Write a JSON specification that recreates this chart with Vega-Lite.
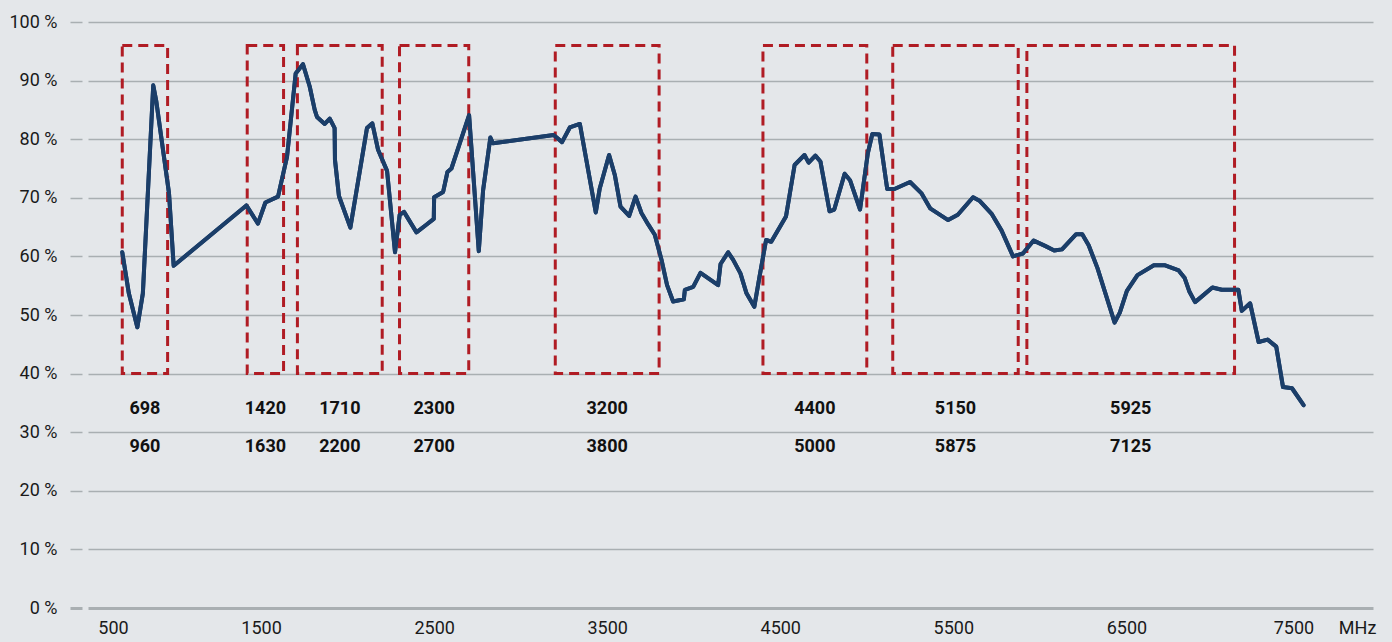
{
  "$schema": "https://vega.github.io/schema/vega-lite/v6.json",
  "width": 1285,
  "height": 586,
  "autosize": {"type": "none"},
  "padding": {"left": 88, "top": 22, "right": 19, "bottom": 34},
  "background": "#e4e7ea",
  "config": {"view": {"stroke": null}, "font": "Roboto"},
  "datasets": {
    "curve": [
      {"freq": 698, "eff": 60.7}, {"freq": 736, "eff": 53.7}, {"freq": 785, "eff": 47.9}, {"freq": 817, "eff": 53.7},
      {"freq": 877, "eff": 89.2}, {"freq": 895, "eff": 86.4}, {"freq": 968, "eff": 70.8}, {"freq": 995, "eff": 58.4},
      {"freq": 1415, "eff": 68.7}, {"freq": 1482, "eff": 65.6}, {"freq": 1525, "eff": 69.2}, {"freq": 1598, "eff": 70.2},
      {"freq": 1650, "eff": 77.0}, {"freq": 1700, "eff": 91.2}, {"freq": 1742, "eff": 92.8}, {"freq": 1781, "eff": 89.0},
      {"freq": 1810, "eff": 85.0}, {"freq": 1823, "eff": 83.8}, {"freq": 1868, "eff": 82.6}, {"freq": 1897, "eff": 83.5},
      {"freq": 1925, "eff": 81.9}, {"freq": 1927, "eff": 76.5}, {"freq": 1950, "eff": 70.3}, {"freq": 2016, "eff": 64.9},
      {"freq": 2112, "eff": 81.9}, {"freq": 2143, "eff": 82.7}, {"freq": 2176, "eff": 78.2}, {"freq": 2228, "eff": 74.6},
      {"freq": 2274, "eff": 60.7}, {"freq": 2301, "eff": 67.1}, {"freq": 2326, "eff": 67.6}, {"freq": 2398, "eff": 64.1},
      {"freq": 2455, "eff": 65.4}, {"freq": 2498, "eff": 66.4}, {"freq": 2500, "eff": 70.1}, {"freq": 2552, "eff": 71.0},
      {"freq": 2577, "eff": 74.4}, {"freq": 2600, "eff": 75.0}, {"freq": 2702, "eff": 84.1}, {"freq": 2758, "eff": 60.9},
      {"freq": 2783, "eff": 71.3}, {"freq": 2825, "eff": 80.3}, {"freq": 2840, "eff": 79.3}, {"freq": 3191, "eff": 80.7},
      {"freq": 3239, "eff": 79.5}, {"freq": 3284, "eff": 82.0}, {"freq": 3342, "eff": 82.6}, {"freq": 3434, "eff": 67.5},
      {"freq": 3457, "eff": 71.6}, {"freq": 3511, "eff": 77.3}, {"freq": 3544, "eff": 73.9}, {"freq": 3577, "eff": 68.5},
      {"freq": 3627, "eff": 66.9}, {"freq": 3664, "eff": 70.2}, {"freq": 3698, "eff": 67.4}, {"freq": 3736, "eff": 65.5},
      {"freq": 3775, "eff": 63.7}, {"freq": 3814, "eff": 59.4}, {"freq": 3846, "eff": 55.1}, {"freq": 3881, "eff": 52.3},
      {"freq": 3943, "eff": 52.7}, {"freq": 3949, "eff": 54.3}, {"freq": 3997, "eff": 54.8}, {"freq": 4039, "eff": 57.2},
      {"freq": 4141, "eff": 55.1}, {"freq": 4155, "eff": 58.7}, {"freq": 4199, "eff": 60.7}, {"freq": 4228, "eff": 59.4},
      {"freq": 4270, "eff": 57.1}, {"freq": 4305, "eff": 53.7}, {"freq": 4350, "eff": 51.4}, {"freq": 4380, "eff": 56.5},
      {"freq": 4418, "eff": 62.8}, {"freq": 4448, "eff": 62.5}, {"freq": 4533, "eff": 66.8}, {"freq": 4583, "eff": 75.6},
      {"freq": 4640, "eff": 77.3}, {"freq": 4664, "eff": 76.0}, {"freq": 4703, "eff": 77.2}, {"freq": 4732, "eff": 76.2},
      {"freq": 4785, "eff": 67.7}, {"freq": 4812, "eff": 68.0}, {"freq": 4872, "eff": 74.1}, {"freq": 4903, "eff": 73.0},
      {"freq": 4961, "eff": 68.0}, {"freq": 5006, "eff": 77.6}, {"freq": 5032, "eff": 80.9}, {"freq": 5073, "eff": 80.8},
      {"freq": 5118, "eff": 71.5}, {"freq": 5160, "eff": 71.5}, {"freq": 5250, "eff": 72.7}, {"freq": 5315, "eff": 70.8},
      {"freq": 5366, "eff": 68.2}, {"freq": 5470, "eff": 66.2}, {"freq": 5526, "eff": 67.1}, {"freq": 5614, "eff": 70.1},
      {"freq": 5651, "eff": 69.5}, {"freq": 5723, "eff": 67.2}, {"freq": 5779, "eff": 64.4}, {"freq": 5845, "eff": 60.0},
      {"freq": 5902, "eff": 60.5}, {"freq": 5964, "eff": 62.7}, {"freq": 6030, "eff": 61.8}, {"freq": 6083, "eff": 61.0},
      {"freq": 6128, "eff": 61.2}, {"freq": 6210, "eff": 63.8}, {"freq": 6245, "eff": 63.8}, {"freq": 6282, "eff": 61.9},
      {"freq": 6333, "eff": 58.0}, {"freq": 6432, "eff": 48.7}, {"freq": 6462, "eff": 50.4}, {"freq": 6503, "eff": 54.1},
      {"freq": 6564, "eff": 56.8}, {"freq": 6659, "eff": 58.5}, {"freq": 6720, "eff": 58.5}, {"freq": 6802, "eff": 57.6},
      {"freq": 6837, "eff": 56.3}, {"freq": 6864, "eff": 54.0}, {"freq": 6897, "eff": 52.2}, {"freq": 6997, "eff": 54.7},
      {"freq": 7051, "eff": 54.3}, {"freq": 7147, "eff": 54.3}, {"freq": 7167, "eff": 50.7}, {"freq": 7215, "eff": 52.0},
      {"freq": 7264, "eff": 45.4}, {"freq": 7316, "eff": 45.8}, {"freq": 7366, "eff": 44.6}, {"freq": 7405, "eff": 37.7},
      {"freq": 7457, "eff": 37.5}, {"freq": 7524, "eff": 34.6}
    ],
    "bands": [
      {"start": 698, "end": 960}, {"start": 1420, "end": 1630}, {"start": 1710, "end": 2200},
      {"start": 2300, "end": 2700}, {"start": 3200, "end": 3800}, {"start": 4400, "end": 5000},
      {"start": 5150, "end": 5875}, {"start": 5925, "end": 7125}
    ]
  },
  "layer": [
    {
      "data": {"name": "curve"},
      "mark": {"type": "line", "color": "#1b3e69", "strokeWidth": 4, "strokeJoin": "round", "strokeCap": "round"},
      "encoding": {
        "x": {
          "field": "freq", "type": "quantitative",
          "scale": {"domain": [500, 7925], "nice": false, "zero": false},
          "axis": {
            "values": [500, 1500, 2500, 3500, 4500, 5500, 6500, 7500, 7833],
            "format": "d",
            "labelExpr": "datum.value > 7600 ? 'MHz' : datum.label",
            "title": null, "grid": false, "domain": false, "ticks": false,
            "labelPadding": 11, "labelFontSize": 18, "labelFont": "Roboto",
            "labelColor": "#1a1a1a", "labelFlush": false, "labelOverlap": false,
            "labelOffset": {"condition": [{"test": "datum.value == 500", "value": 25}, {"test": "datum.value == 7500", "value": -6}], "value": 0}
          }
        },
        "y": {
          "field": "eff", "type": "quantitative",
          "scale": {"domain": [0, 100], "nice": false},
          "axis": {
            "values": [0, 10, 20, 30, 40, 50, 60, 70, 80, 90, 100],
            "labelExpr": "datum.value + ' %'",
            "title": null, "domain": false, "grid": true,
            "gridColor": "#a9afb2",
            "gridWidth": {"condition": {"test": "datum.value == 0", "value": 3}, "value": 1.5},
            "tickColor": "#a9afb2", "tickSize": 12,
            "tickWidth": {"condition": {"test": "datum.value == 0", "value": 3}, "value": 1.5},
            "offset": 6, "labelPadding": 13, "labelFontSize": 18,
            "labelFont": "Roboto", "labelColor": "#1a1a1a"
          }
        }
      }
    },
    {
      "data": {"name": "bands"},
      "mark": {"type": "rect", "fill": "transparent", "stroke": "#b01c24", "strokeWidth": 3, "strokeDash": [10, 6]},
      "encoding": {
        "x": {"field": "start", "type": "quantitative"},
        "x2": {"field": "end"},
        "y": {"datum": 40, "type": "quantitative"},
        "y2": {"datum": 96}
      }
    },
    {
      "data": {"name": "curve"},
      "mark": {"type": "line", "color": "#1b3e69", "strokeWidth": 4, "strokeJoin": "round", "strokeCap": "round"},
      "encoding": {
        "x": {"field": "freq", "type": "quantitative"},
        "y": {"field": "eff", "type": "quantitative"}
      }
    },
    {
      "data": {"name": "bands"},
      "transform": [{"calculate": "(datum.start + datum.end) / 2", "as": "mid"}],
      "mark": {"type": "text", "fontWeight": "bold", "fontSize": 18, "font": "Roboto", "color": "#111111", "baseline": "middle", "align": "center"},
      "encoding": {
        "x": {"field": "mid", "type": "quantitative"},
        "y": {"datum": 34, "type": "quantitative"},
        "text": {"field": "start", "type": "nominal"}
      }
    },
    {
      "data": {"name": "bands"},
      "transform": [{"calculate": "(datum.start + datum.end) / 2", "as": "mid"}],
      "mark": {"type": "text", "fontWeight": "bold", "fontSize": 18, "font": "Roboto", "color": "#111111", "baseline": "middle", "align": "center"},
      "encoding": {
        "x": {"field": "mid", "type": "quantitative"},
        "y": {"datum": 27.5, "type": "quantitative"},
        "text": {"field": "end", "type": "nominal"}
      }
    }
  ]
}
